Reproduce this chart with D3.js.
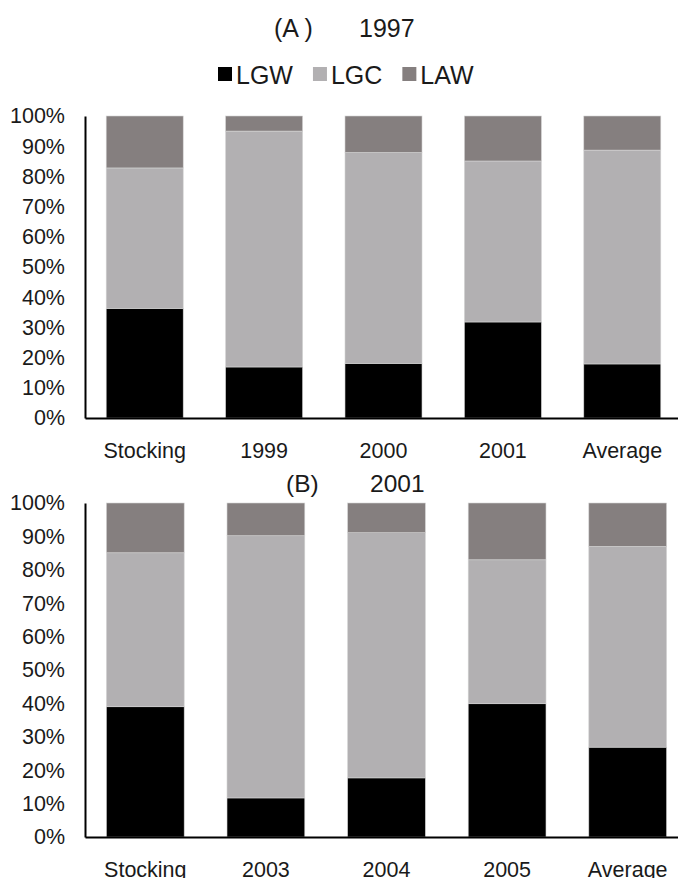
<!DOCTYPE html>
<html>
<head>
<meta charset="utf-8">
<script src="https://cdn.jsdelivr.net/npm/d3@7"></script>
<style>
  body { margin: 0; background: #fff; }
  text { font-family: "Liberation Sans", Arial, sans-serif; fill: #1a1a1a; }
</style>
</head>
<body>
<svg id="chart" width="678" height="878"></svg>
<script>
// series names
const series = ["LGW", "LGC", "LAW"];
const colors = ["#000000", "#b2b0b2", "#857f7f"];

// panel A (1997 stocking)
const catsA = ["Stocking", "1999", "2000", "2001", "Average"];
const lgwA = [36.3, 16.9, 18.1, 31.8, 17.9];
const lgcA = [46.5, 78.1, 69.8, 53.3, 70.8];
const lawA = [17.2, 5.0, 12.1, 14.9, 11.3];

// panel B (2001 stocking)
const catsB = ["Stocking", "2003", "2004", "2005", "Average"];
const lgwB = [39.0, 11.7, 17.7, 39.9, 26.9];
const lgcB = [46.1, 78.5, 73.4, 43.1, 60.1];
const lawB = [14.9, 9.8, 8.9, 17.0, 13.0];

const yTicks = [0, 10, 20, 30, 40, 50, 60, 70, 80, 90, 100];

const svg = d3.select("#chart");

function makePanel(cats, vals, box){
    // build rows for the stack
    const rows = cats.map((c, i) => {
        const r = {cat: c};
        series.forEach((s, j) => r[s] = vals[j][i]);
        return r;
    });
    const stacked = d3.stack().keys(series)(rows);

    const x = d3.scaleBand()
        .domain(cats)
        .range([box.left, box.right])
        .paddingInner(0.355)
        .paddingOuter(0.1775)

    const y = d3.scaleLinear()
        .domain([0, 100])
        .range([box.bottom, box.top])

    const g = svg.append("g");

    g.selectAll("g.layer")
        .data(stacked)
        .join("g")
        .attr("class", "layer")
        .attr("fill", (d, i) => colors[i])
        .selectAll("rect")
        .data(d => d)
        .join("rect")
            .attr("x", d => x(d.data.cat))
            .attr("y", d => y(d[1]))
            .attr("height", d => y(d[0]) - y(d[1]))
            .attr("width", x.bandwidth())
            .attr("stroke", "#d4d4d4")
            .attr("stroke-width", 0.6)

    // y axis
    g.append("g")
        .attr("transform", `translate(${box.left},0)`)
        .call(d3.axisLeft(y).tickValues(yTicks).tickFormat(d => d + "%").tickSize(0).tickPadding(20))
        .call(a => a.select(".domain").attr("stroke", "#000").attr("stroke-width", 2))
        .call(a => a.selectAll("text").style("font-size", "21.5px").attr("fill", "#1a1a1a"))

    // x axis
    g.append("g")
        .attr("transform", `translate(0,${box.bottom})`)
        .call(d3.axisBottom(x).tickSize(0).tickSizeOuter(0).tickPadding(25))
        .call(a => a.select(".domain").attr("stroke", "#000").attr("stroke-width", 2))
        .call(a => a.selectAll("text").style("font-size", "21.5px").attr("fill", "#1a1a1a"))

    return g;
}

makePanel(catsA, [lgwA, lgcA, lawA], {left: 85, right: 682, top: 116, bottom: 418});
makePanel(catsB, [lgwB, lgcB, lawB], {left: 85, right: 688, top: 503, bottom: 837});

// titles
svg.append("text").attr("x", 274).attr("y", 37).style("font-size", "25px").text("(A )");
svg.append("text").attr("x", 359).attr("y", 37).style("font-size", "25px").text("1997");
svg.append("text").attr("x", 286).attr("y", 492).style("font-size", "24.5px").text("(B)");
svg.append("text").attr("x", 370).attr("y", 492).style("font-size", "24.5px").text("2001");

// legend
const legend = svg.append("g");
let lx = 218;
series.forEach((s, i) => {
    legend.append("rect")
        .attr("x", lx).attr("y", 67)
        .attr("width", 14).attr("height", 14)
        .attr("fill", colors[i])
    const t = legend.append("text")
        .attr("x", lx + 18).attr("y", 84)
        .style("font-size", "25px")
        .text(s)
    lx += 18 + t.node().getComputedTextLength() + 20;
});
</script>
</body>
</html>
